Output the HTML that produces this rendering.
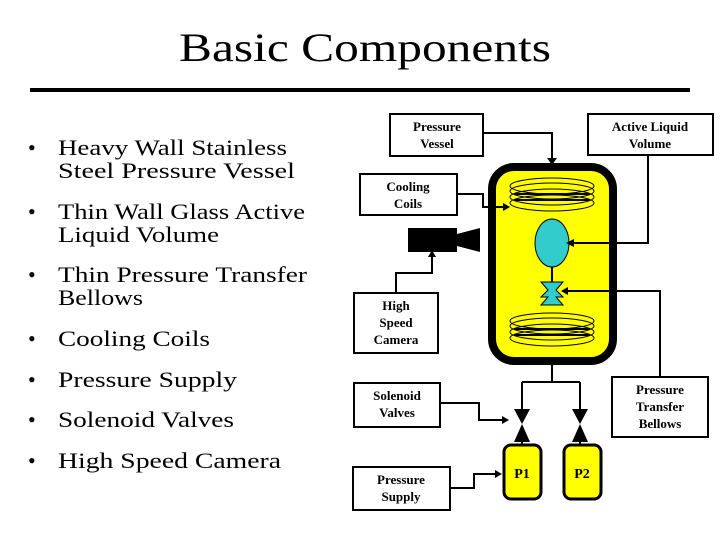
<!DOCTYPE html>
<html><head><meta charset="utf-8"><style>
html,body{margin:0;padding:0;background:#fff;}
svg{display:block;}
</style></head><body>
<svg width="720" height="540" viewBox="0 0 720 540" xmlns="http://www.w3.org/2000/svg">
<rect width="720" height="540" fill="#fff"/>
<text x="365" y="61" text-anchor="middle" font-family="Liberation Serif, serif" font-size="40" textLength="372" lengthAdjust="spacingAndGlyphs" fill="#000">Basic Components</text>
<rect x="30" y="88" width="660" height="4" fill="#000"/>
<g font-family="Liberation Serif, serif" font-size="22" fill="#000" lengthAdjust="spacingAndGlyphs">
<text x="28" y="155">•</text>
<text x="58" y="155" textLength="229" lengthAdjust="spacingAndGlyphs">Heavy Wall Stainless</text>
<text x="58" y="178" textLength="237" lengthAdjust="spacingAndGlyphs">Steel Pressure Vessel</text>
<text x="28" y="219">•</text>
<text x="58" y="219" textLength="247" lengthAdjust="spacingAndGlyphs">Thin Wall Glass Active</text>
<text x="58" y="242" textLength="161" lengthAdjust="spacingAndGlyphs">Liquid Volume</text>
<text x="28" y="282">•</text>
<text x="58" y="282" textLength="249" lengthAdjust="spacingAndGlyphs">Thin Pressure Transfer</text>
<text x="58" y="305" textLength="85" lengthAdjust="spacingAndGlyphs">Bellows</text>
<text x="28" y="346">•</text>
<text x="58" y="346" textLength="152" lengthAdjust="spacingAndGlyphs">Cooling Coils</text>
<text x="28" y="387">•</text>
<text x="58" y="387" textLength="179" lengthAdjust="spacingAndGlyphs">Pressure Supply</text>
<text x="28" y="427">•</text>
<text x="58" y="427" textLength="176" lengthAdjust="spacingAndGlyphs">Solenoid Valves</text>
<text x="28" y="468">•</text>
<text x="58" y="468" textLength="223" lengthAdjust="spacingAndGlyphs">High Speed Camera</text>
</g>

<!-- vessel -->
<rect x="492" y="167" width="121" height="194" rx="22" fill="#ffff00" stroke="#000" stroke-width="8"/>
<!-- coils -->
<g fill="none" stroke="#000" stroke-width="1">
<ellipse cx="552" cy="186" rx="42" ry="8"/>
<ellipse cx="552" cy="191" rx="42" ry="8"/>
<ellipse cx="552" cy="197" rx="42" ry="8"/>
<ellipse cx="552" cy="203" rx="42" ry="8"/>
<ellipse cx="552" cy="321" rx="42" ry="8"/>
<ellipse cx="552" cy="326" rx="42" ry="8"/>
<ellipse cx="552" cy="332" rx="42" ry="8"/>
<ellipse cx="552" cy="338" rx="42" ry="8"/>
</g>
<g stroke="#000" stroke-width="2">
<line x1="514" y1="194" x2="590" y2="194"/><line x1="514" y1="200" x2="590" y2="200"/>
<line x1="514" y1="329" x2="590" y2="329"/><line x1="514" y1="335" x2="590" y2="335"/>
</g>
<!-- ellipse + bellows -->
<line x1="552" y1="266" x2="552" y2="283" stroke="#000" stroke-width="2"/>
<ellipse cx="552" cy="243" rx="17" ry="24" fill="#33cccc" stroke="#000" stroke-width="1"/>
<polygon points="541,282 563,282 556,290 563,297 556,297 563,305 541,305 548,297 541,297 548,290" fill="#33cccc" stroke="#000" stroke-width="1"/>
<!-- camera -->
<rect x="408" y="228" width="49" height="24" fill="#000"/>
<polygon points="457,234 480,228 480,252 457,246" fill="#000"/>

<!-- boxes -->
<g fill="#fff" stroke="#000" stroke-width="2">
<rect x="390" y="114" width="93" height="42"/>
<rect x="588" y="114" width="125" height="41"/>
<rect x="360" y="174" width="97" height="41"/>
<rect x="354" y="293" width="84" height="60"/>
<rect x="354" y="383" width="86" height="44"/>
<rect x="612" y="377" width="96" height="60"/>
<rect x="353" y="467" width="97" height="43"/>
</g>
<g font-family="Liberation Serif, serif" font-weight="bold" font-size="13" text-anchor="middle" fill="#000">
<text x="437" y="131">Pressure</text><text x="437" y="148">Vessel</text>
<text x="650" y="131">Active Liquid</text><text x="650" y="148">Volume</text>
<text x="408" y="191">Cooling</text><text x="408" y="208">Coils</text>
<text x="396" y="310">High</text><text x="396" y="327">Speed</text><text x="396" y="344">Camera</text>
<text x="397" y="400">Solenoid</text><text x="397" y="417">Valves</text>
<text x="660" y="394">Pressure</text><text x="660" y="411">Transfer</text><text x="660" y="428">Bellows</text>
<text x="401" y="484">Pressure</text><text x="401" y="501">Supply</text>
</g>

<!-- connectors -->
<g fill="none" stroke="#000" stroke-width="2">
<polyline points="483,133 552,133 552,158"/>
<polyline points="648,155 648,243 574,243"/>
<polyline points="457,194 483,194 483,207 503,207"/>
<polyline points="396,293 396,273 432,273 432,257"/>
<polyline points="660,377 660,291 568,291"/>
<polyline points="552,361 552,382"/>
<polyline points="522,382 580,382"/>
<polyline points="522,382 522,409"/><polyline points="580,382 580,409"/>
<polyline points="522,442 522,446"/><polyline points="580,442 580,446"/>
<polyline points="440,403 479,403 479,420 502,420"/>
<polyline points="450,488 474,488 474,474 495,474"/>
</g>
<g fill="#000">
<polygon points="547,158 557,158 552,165"/>
<polygon points="574,239 574,247 566,243"/>
<polygon points="503,203 503,211 510,207"/>
<polygon points="428,257 436,257 432,250"/>
<polygon points="568,287 568,295 561,291"/>
<polygon points="502,416 502,424 509,420"/>
<polygon points="495,470 495,478 502,474"/>
<polygon points="514,409 530,409 522,424"/>
<polygon points="514,442 530,442 522,424"/>
<polygon points="572,409 588,409 580,424"/>
<polygon points="572,442 588,442 580,424"/>
</g>
<!-- tanks -->
<rect x="504" y="445" width="37" height="54" rx="7" fill="#ffff00" stroke="#000" stroke-width="3"/>
<rect x="564" y="445" width="37" height="54" rx="7" fill="#ffff00" stroke="#000" stroke-width="3"/>
<g font-family="Liberation Serif, serif" font-weight="bold" font-size="14" text-anchor="middle" fill="#000">
<text x="522" y="478">P1</text><text x="582" y="478">P2</text>
</g>
</svg>
</body></html>
